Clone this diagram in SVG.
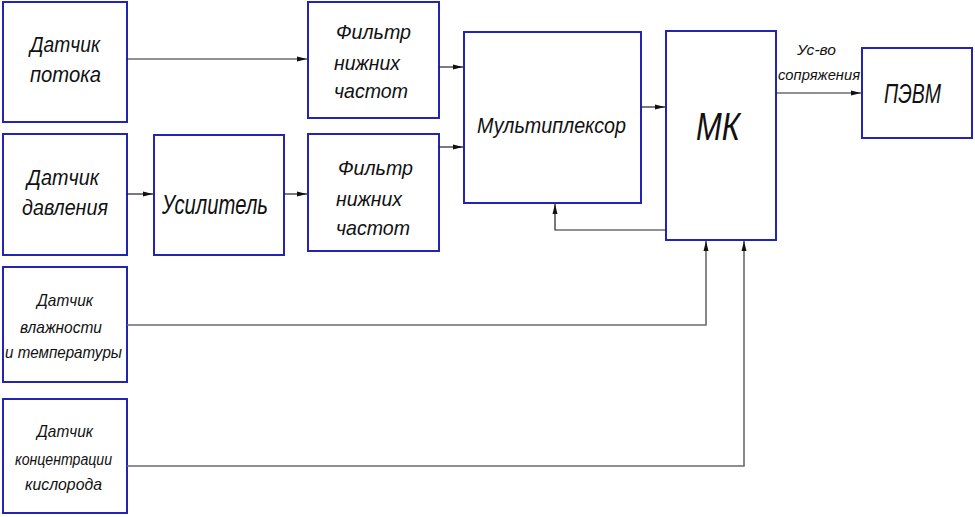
<svg xmlns="http://www.w3.org/2000/svg" width="975" height="517" viewBox="0 0 975 517">
<defs>
<marker id="ah" viewBox="0 0 10 6" refX="10" refY="3" markerWidth="10" markerHeight="6" markerUnits="userSpaceOnUse" orient="auto">
<path d="M0,0.5 L10,3 L0,5.5 Z" fill="#111"/>
</marker>
<style>
.box{fill:#fff;stroke:#2424b4;stroke-width:2}
.t{font-family:"Liberation Sans","DejaVu Sans",sans-serif;font-style:italic;fill:#111;text-anchor:start}
.c{fill:none;stroke:#222;stroke-width:1.2}
.g{fill:none;stroke:#6a6a6a;stroke-width:1.6}
</style>
</defs>
<rect width="975" height="517" fill="#fff"/>
<g id="n-flow">
<rect class="box" x="3" y="2" width="124" height="120"/>
<text class="t" x="30" y="52" font-size="22" textLength="70" lengthAdjust="spacingAndGlyphs">Датчик</text>
<text class="t" x="30" y="82" font-size="22" textLength="71" lengthAdjust="spacingAndGlyphs">потока</text>
</g>
<g id="n-press">
<rect class="box" x="3" y="134" width="124" height="121"/>
<text class="t" x="27" y="185" font-size="22" textLength="72" lengthAdjust="spacingAndGlyphs">Датчик</text>
<text class="t" x="22" y="215" font-size="22" textLength="86" lengthAdjust="spacingAndGlyphs">давления</text>
</g>
<g id="n-amp">
<rect class="box" x="154" y="135" width="130" height="120"/>
<text class="t" x="162" y="214" font-size="28" textLength="106" lengthAdjust="spacingAndGlyphs">Усилитель</text>
</g>
<g id="n-flt1">
<rect class="box" x="308" y="2" width="131" height="116"/>
<text class="t" x="336" y="39" font-size="21" textLength="75" lengthAdjust="spacingAndGlyphs">Фильтр</text>
<text class="t" x="334" y="70" font-size="21" textLength="66" lengthAdjust="spacingAndGlyphs">нижних</text>
<text class="t" x="334" y="98" font-size="21" textLength="74" lengthAdjust="spacingAndGlyphs">частот</text>
</g>
<g id="n-flt2">
<rect class="box" x="308" y="134" width="131" height="117"/>
<text class="t" x="338" y="175" font-size="21" textLength="75" lengthAdjust="spacingAndGlyphs">Фильтр</text>
<text class="t" x="336" y="206" font-size="21" textLength="66" lengthAdjust="spacingAndGlyphs">нижних</text>
<text class="t" x="336" y="235" font-size="21" textLength="74" lengthAdjust="spacingAndGlyphs">частот</text>
</g>
<g id="n-mux">
<rect class="box" x="464" y="32" width="177" height="171"/>
<text class="t" x="477" y="133" font-size="22" textLength="149" lengthAdjust="spacingAndGlyphs">Мультиплексор</text>
</g>
<g id="n-mk">
<rect class="box" x="666" y="31" width="110" height="209"/>
<text class="t" x="696" y="140" font-size="38" textLength="44" lengthAdjust="spacingAndGlyphs">МК</text>
</g>
<g id="n-pc">
<rect class="box" x="862" y="48" width="110" height="90"/>
<text class="t" x="884" y="103" font-size="27" textLength="57" lengthAdjust="spacingAndGlyphs">ПЭВМ</text>
</g>
<g id="n-hum">
<rect class="box" x="3" y="267" width="124" height="115"/>
<text class="t" x="37" y="306" font-size="17" textLength="56" lengthAdjust="spacingAndGlyphs">Датчик</text>
<text class="t" x="20" y="333" font-size="17" textLength="82" lengthAdjust="spacingAndGlyphs">влажности</text>
<text class="t" x="5" y="358" font-size="17" textLength="117" lengthAdjust="spacingAndGlyphs">и температуры</text>
</g>
<g id="n-oxy">
<rect class="box" x="3" y="399" width="124" height="114"/>
<text class="t" x="37" y="437" font-size="17" textLength="56" lengthAdjust="spacingAndGlyphs">Датчик</text>
<text class="t" x="15" y="465" font-size="17" textLength="97" lengthAdjust="spacingAndGlyphs">концентрации</text>
<text class="t" x="25" y="490" font-size="17" textLength="77" lengthAdjust="spacingAndGlyphs">кислорода</text>
</g>
<g id="connectors">
<path class="c" d="M127,59 H307" marker-end="url(#ah)"/>
<path class="c" d="M127,194 H153" marker-end="url(#ah)"/>
<path class="c" d="M284,194 H307" marker-end="url(#ah)"/>
<path class="c" d="M439,67 H463" marker-end="url(#ah)"/>
<path class="c" d="M439,147 H463" marker-end="url(#ah)"/>
<path class="c" d="M641,107 H665" marker-end="url(#ah)"/>
<path class="c" d="M776,93 H861" marker-end="url(#ah)"/>
<path class="c" d="M666,230 H555 V204" marker-end="url(#ah)"/>
<path class="g" d="M127,325 H706 V241" marker-end="url(#ah)"/>
<path class="g" d="M127,466 H744 V241" marker-end="url(#ah)"/>
<text class="t" x="797" y="55" font-size="15" textLength="39" lengthAdjust="spacingAndGlyphs">Ус-во</text>
<text class="t" x="778" y="80" font-size="15" textLength="82" lengthAdjust="spacingAndGlyphs">сопряжения</text>
</g>
</svg>
